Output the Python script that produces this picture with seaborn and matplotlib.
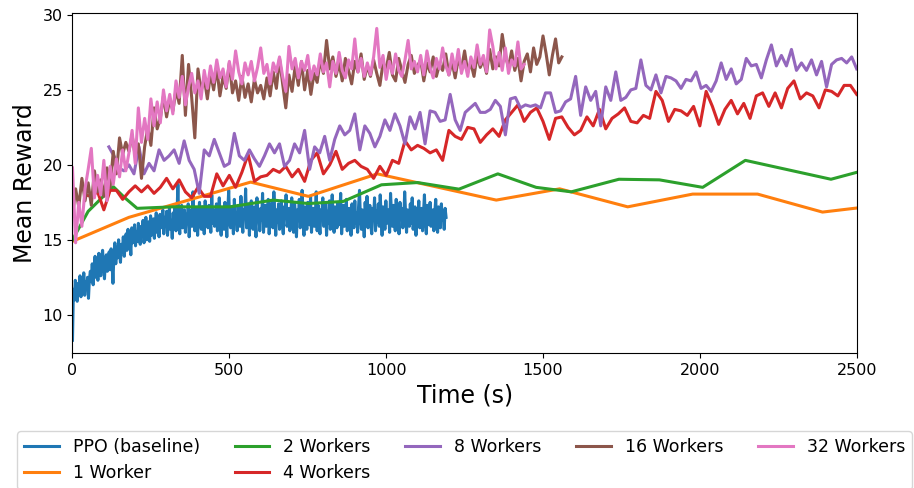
import numpy as np
import pandas as pd
import matplotlib
matplotlib.use("Agg")
import matplotlib.pyplot as plt
import seaborn as sns

# ---------------------------------------------------------------- data
series_names = ["PPO (baseline)", "1 Worker", "2 Workers", "4 Workers",
                "8 Workers", "16 Workers", "32 Workers"]

# PPO baseline, logged every 3 s
ppo_step = 3
ppo_reward = [
    8.3, 11.7, 11.0, 12.3, 11.4, 10.9, 12.1, 11.6, 12.6, 11.2, 12.0, 11.5, 12.8, 11.3, 12.2, 11.8, 12.5, 11.1, 12.4, 12.9,
    12.2, 13.4, 12.0, 13.0, 13.9, 12.5, 13.6, 12.3, 14.1, 13.2, 12.6, 13.8, 14.3, 13.1, 12.4, 13.7, 14.0, 12.9, 13.5, 14.2,
    13.0, 14.4, 13.6, 12.1, 14.0, 14.8, 13.4, 14.5, 13.8, 15.0, 14.1, 13.5, 14.7, 14.2, 15.2, 13.9, 14.6, 15.4, 14.3, 15.7,
    14.5, 15.1, 14.0, 15.8, 14.8, 15.3, 16.0, 14.6, 15.5, 14.9, 16.1, 15.2, 14.7, 15.9, 15.4, 16.3, 14.8, 15.6, 16.5, 15.0,
    15.7, 16.2, 14.9, 16.6, 15.3, 15.9, 16.4, 15.1, 16.0, 16.8, 15.5, 16.3, 15.2, 16.7, 15.8, 16.1, 17.0, 15.4, 16.5, 15.9,
    16.9, 15.3, 16.4, 17.1, 15.7, 16.2, 15.1, 16.8, 16.0, 17.2, 15.6, 16.5, 18.7, 16.1, 15.4, 16.9, 17.3, 15.8, 16.3, 17.0,
    15.5, 16.7, 16.1, 17.4, 15.2, 16.6, 17.0, 15.9, 18.2, 16.3, 15.6, 17.1, 16.4, 15.3, 16.8, 17.5, 16.0, 15.7, 17.2, 16.5,
    15.4, 17.6, 16.2, 16.9, 15.8, 17.3, 16.6, 15.5, 18.0, 16.1, 17.0, 15.9, 16.7, 17.4, 15.6, 16.3, 17.8, 16.0, 15.3, 17.1,
    16.8, 15.7, 17.5, 16.4, 15.2, 16.9, 18.3, 16.2, 15.8, 17.2, 16.5, 15.4, 17.7, 16.1, 16.8, 15.6, 17.3, 16.7, 15.9, 17.9,
    16.3, 15.5, 17.0, 16.6, 18.4, 15.8, 16.2, 17.4, 15.3, 16.9, 17.6, 16.0, 15.7, 17.2, 16.5, 15.2, 17.8, 16.4, 16.9, 15.6,
    17.1, 16.3, 18.1, 15.5, 16.8, 17.3, 15.9, 16.4, 17.7, 15.4, 16.7, 16.1, 17.5, 15.8, 18.2, 16.6, 15.3, 17.0, 16.2, 17.4,
    15.7, 16.9, 17.6, 16.0, 15.4, 17.2, 16.5, 18.0, 15.9, 16.3, 17.1, 15.6, 16.8, 17.8, 16.2, 15.5, 17.4, 16.7, 15.2, 17.0,
    16.4, 17.7, 15.8, 16.6, 18.3, 16.1, 15.3, 17.2, 16.9, 15.7, 17.5, 16.3, 16.0, 17.9, 15.5, 16.8, 17.1, 15.9, 16.5, 18.2,
    15.6, 17.3, 16.2, 15.4, 17.0, 16.7, 17.8, 15.9, 16.4, 17.4, 15.3, 16.9, 16.1, 17.6, 15.7, 16.6, 18.0, 16.3, 15.5, 17.2,
    16.8, 15.8, 17.5, 16.0, 16.7, 18.1, 15.4, 16.5, 17.3, 15.9, 16.2, 17.7, 15.6, 16.9, 17.1, 16.4, 15.3, 17.4, 16.6, 15.8,
    17.6, 16.1, 16.8, 15.5, 17.2, 18.3, 16.4, 15.7, 17.0, 16.6, 15.2, 17.5, 16.3, 17.9, 15.8, 16.7, 17.3, 16.0, 15.4, 17.1,
    16.5, 17.8, 15.6, 16.9, 16.2, 17.4, 15.9, 18.0, 16.6, 15.3, 17.2, 16.8, 15.7, 17.6, 16.1, 16.4, 17.0, 15.5, 18.1, 16.7,
    15.9, 17.3, 16.3, 15.6, 17.7, 16.0, 16.8, 15.4, 17.5, 16.5, 17.1, 15.8, 16.2, 18.2, 16.7, 15.5, 17.0, 16.4, 15.9, 17.4,
    16.1, 17.8, 15.7, 16.6, 17.2, 15.3, 16.9, 16.3, 17.6, 15.8, 16.5, 17.1, 15.6, 16.8, 18.0, 16.2, 15.4, 17.3, 16.7, 16.0,
    17.5, 15.9, 16.4, 17.0, 15.6, 16.8, 17.7, 16.1, 15.5, 17.2, 16.6, 15.8, 17.4, 16.3, 16.9, 15.7, 17.1, 16.5,
]

# 1 worker
w1_time = [0, 180, 568, 752, 972, 1351, 1553, 1770, 1977, 2184, 2391, 2500]
w1_reward = [14.9, 16.5, 18.85, 17.9, 19.4, 17.65, 18.4, 17.2, 18.05, 18.05, 16.85, 17.12]

# 2 workers
w2_time = [0, 50, 130, 167, 206, 321, 502, 640, 752, 863, 985, 1100, 1232,
           1356, 1478, 1590, 1742, 1871, 2009, 2145, 2418, 2500]
w2_reward = [15.0, 16.9, 18.55, 17.8, 17.1, 17.2, 17.2, 17.65, 17.42, 17.56, 18.67,
             18.82, 18.38, 19.4, 18.5, 18.2, 19.04, 19.0, 18.5, 20.3, 19.04, 19.5]

# 4 workers, logged every 20 s from t = 40 s
w4_start, w4_step = 40, 20
w4_reward = [
    18.0, 17.9, 18.2, 17.0, 18.3, 18.3, 17.7, 18.2, 18.6, 18.2,
    18.6, 18.1, 18.5, 19.1, 18.4, 19.0, 18.2, 17.8, 18.5, 17.9,
    17.9, 19.4, 18.6, 19.3, 18.5, 19.5, 20.7, 18.9, 19.2, 19.3,
    19.7, 19.5, 19.9, 19.2, 19.7, 18.9, 20.3, 20.8, 19.4, 20.0,
    20.9, 19.7, 20.1, 20.3, 19.9, 19.7, 19.1, 19.9, 19.3, 20.3,
    20.1, 21.6, 21.0, 21.3, 21.1, 20.8, 21.0, 20.3, 22.3, 21.9,
    21.7, 22.5, 22.4, 21.5, 22.0, 22.4, 21.9, 23.0, 23.5, 24.0,
    22.9, 23.5, 23.8, 22.9, 21.7, 23.1, 23.2, 22.5, 22.0, 22.3,
    23.2, 22.6, 23.7, 22.4, 23.1, 23.4, 23.8, 22.9, 22.8, 23.3,
    23.1, 24.9, 24.3, 22.9, 23.7, 23.6, 23.3, 23.9, 22.6, 24.9,
    23.9, 22.7, 23.7, 24.3, 23.4, 24.1, 23.1, 24.6, 24.8, 23.9,
    24.8, 23.8, 25.1, 25.6, 24.4, 24.8, 24.6, 23.8, 25.0, 24.9,
    24.6, 25.3, 25.3, 24.7,
]

# 8 workers, logged every 16 s from t = 116 s
w8_start, w8_step = 116, 16
w8_reward = [
    21.2, 20.6, 19.8, 19.6, 20.0, 19.4, 21.2, 19.4, 20.1, 19.6,
    21.0, 20.3, 20.6, 21.0, 20.1, 21.6, 20.3, 19.7, 18.1, 21.0,
    20.6, 21.7, 20.8, 19.9, 20.1, 22.1, 20.6, 20.3, 21.0, 20.4,
    19.9, 20.6, 21.4, 20.8, 21.4, 19.9, 20.3, 21.4, 20.8, 22.3,
    19.7, 21.2, 20.8, 21.9, 20.3, 21.7, 22.6, 22.0, 22.3, 23.4,
    21.0, 22.6, 22.1, 21.2, 21.9, 23.0, 22.3, 23.4, 22.6, 21.4,
    23.2, 22.4, 23.5, 21.4, 23.6, 23.5, 22.9, 23.0, 24.7, 23.0,
    22.3, 23.5, 23.8, 24.1, 23.5, 23.5, 23.7, 24.3, 23.9, 22.0,
    24.4, 24.5, 23.8, 24.0, 23.9, 24.0, 23.8, 24.8, 24.8, 23.5,
    23.6, 24.2, 24.4, 25.9, 23.3, 25.2, 24.3, 24.9, 22.6, 25.2,
    24.3, 26.2, 24.3, 24.5, 25.0, 25.1, 27.0, 25.3, 25.0, 26.0,
    24.8, 25.9, 25.8, 25.6, 25.1, 25.7, 25.6, 26.2, 25.1, 25.3,
    24.9, 25.6, 26.8, 25.7, 26.4, 25.4, 25.7, 27.1, 26.6, 26.7,
    25.8, 27.0, 28.0, 26.6, 27.3, 26.6, 27.7, 26.3, 26.8, 26.3,
    27.0, 26.0, 26.9, 25.2, 26.7, 27.0, 27.1, 26.8, 27.2, 26.4,
]

# 16 workers, logged every 10 s
w16_step = 10
w16_reward = [
    16.6, 18.4, 17.2, 19.1, 17.6, 18.8, 17.3, 19.6, 18.2, 19.0,
    17.9, 19.8, 18.5, 20.9, 19.4, 21.8, 20.7, 21.5, 20.9, 22.0,
    20.6, 21.4, 19.1, 21.2, 22.5, 21.3, 23.8, 22.4, 23.1, 24.6,
    23.2, 24.4, 23.6, 25.0, 24.1, 27.3, 23.3, 26.7, 24.5, 21.8,
    26.4, 24.9, 25.8, 24.4, 26.1, 25.0, 26.5, 24.6, 25.9, 25.1,
    26.8, 24.8, 25.6, 24.3, 25.9, 24.5, 25.4, 24.2, 25.7, 24.8,
    25.3, 24.4, 25.8, 24.6, 26.2, 25.1, 27.1, 25.4, 23.8, 26.0,
    24.9, 26.6, 25.3, 26.9, 25.0, 26.3, 24.7, 26.1, 25.5, 27.0,
    26.1, 28.3, 26.4, 27.2, 25.9, 26.8, 25.6, 27.1, 26.3, 25.4,
    26.9, 26.2, 27.4, 25.7, 26.6, 25.9, 27.0, 26.1, 25.3, 26.8,
    26.4, 27.5, 26.0, 25.6, 27.1, 26.3, 25.5, 26.7, 27.3, 26.1,
    26.6, 27.0, 25.6, 26.8, 26.2, 27.2, 25.9, 26.7, 26.3, 27.4,
    26.0, 26.9, 25.8, 27.1, 26.4, 27.6, 26.2, 26.8, 25.9, 27.3,
    26.5, 27.0, 26.1, 27.7, 26.4, 27.2, 26.6, 28.7, 27.3, 26.5,
    27.6, 26.3, 27.1, 25.6, 26.9, 27.4, 26.2, 27.8, 26.7, 27.2,
    28.6, 27.4, 26.0, 27.3, 28.4, 26.8, 27.2,
]

# 32 workers, logged every 10 s
w32_step = 10
w32_reward = [
    19.8, 14.8, 17.5, 15.9, 18.4, 19.7, 21.1, 17.8, 19.3, 18.0,
    20.3, 17.6, 19.9, 18.7, 20.4, 19.2, 21.0, 19.6, 20.8, 22.3,
    20.1, 23.8, 21.5, 23.1, 21.7, 24.4, 22.6, 24.2, 22.8, 25.0,
    23.6, 24.7, 23.4, 25.6, 24.5, 25.9, 24.0, 25.2, 26.1, 24.8,
    25.6, 24.4, 26.3, 25.1, 26.6, 25.5, 27.0, 25.8, 26.4, 25.2,
    26.9, 25.7, 27.6, 26.2, 25.4, 26.8, 26.0, 26.9, 25.6, 26.5,
    27.8, 26.1, 26.7, 25.4, 26.8, 26.2, 27.2, 25.9, 24.9, 27.9,
    26.4, 27.1, 25.8, 26.9, 26.3, 27.3, 25.7, 26.6, 26.0, 27.4,
    26.2, 26.8, 25.2, 26.9, 26.1, 27.5, 26.3, 25.8, 27.0, 26.4,
    28.4, 26.2, 27.1, 25.9, 26.8, 26.0, 27.2, 29.1, 26.5, 27.3,
    25.7, 26.9, 26.1, 27.4, 26.3, 25.9, 27.0, 28.3, 26.4, 26.9,
    26.2, 27.3, 26.0, 27.6, 26.5, 25.8, 27.1, 26.4, 27.8, 26.6,
    26.0, 27.4, 26.3, 27.7, 26.1, 26.9, 25.9, 27.2, 26.5, 28.0,
    26.7, 27.3, 26.2, 29.0, 27.9, 26.4, 27.5, 26.3, 27.8, 26.1,
    27.0, 26.6, 28.2, 26.4, 26.7,
]

# ---------------------------------------------------------------- frames
def frame(name, time, reward):
    return pd.DataFrame({"Time": np.asarray(time, dtype=float),
                         "Reward": np.asarray(reward, dtype=float),
                         "Series": name})

frames = [
    frame(series_names[0], np.arange(len(ppo_reward)) * ppo_step, ppo_reward),
    frame(series_names[1], w1_time, w1_reward),
    frame(series_names[2], w2_time, w2_reward),
    frame(series_names[3], w4_start + np.arange(len(w4_reward)) * w4_step, w4_reward),
    frame(series_names[4], w8_start + np.arange(len(w8_reward)) * w8_step, w8_reward),
    frame(series_names[5], np.arange(len(w16_reward)) * w16_step, w16_reward),
    frame(series_names[6], np.arange(len(w32_reward)) * w32_step, w32_reward),
]

# ---------------------------------------------------------------- plot
palette = sns.color_palette("tab10", 7)

fig = plt.figure(figsize=(9.14, 4.88), dpi=100)
ax = fig.add_axes([0.0793, 0.2766, 0.858, 0.6968])

for df, color in zip(frames, palette):
    sns.lineplot(data=df, x="Time", y="Reward", ax=ax, color=color,
                 linewidth=2.2, label=df["Series"].iloc[0],
                 estimator=None, sort=False)

ax.set_xlim(0, 2500)
ax.set_ylim(7.45, 30.13)
ax.set_xticks([0, 500, 1000, 1500, 2000, 2500])
ax.set_yticks([10, 15, 20, 25, 30])
ax.tick_params(labelsize=11.5)
ax.set_xlabel("Time (s)", fontsize=17)
ax.set_ylabel("Mean Reward", fontsize=17)

ax.legend(loc="upper center", bbox_to_anchor=(0.5, -0.205), ncol=5,
          fontsize=12.5, frameon=True, labelspacing=0.45)

fig.savefig("out.png", dpi=100)
